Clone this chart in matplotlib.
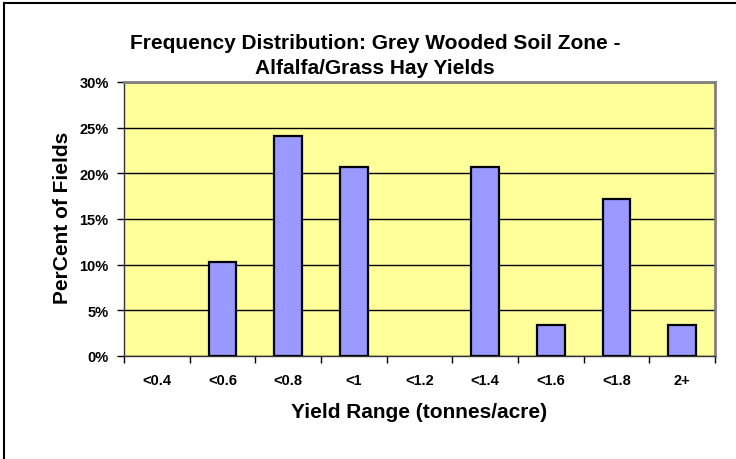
import numpy as np
import matplotlib
matplotlib.use("Agg")
import matplotlib.pyplot as plt
from matplotlib.lines import Line2D
from matplotlib.ticker import FuncFormatter

# Data
categories = ['<0.4', '<0.6', '<0.8', '<1', '<1.2', '<1.4', '<1.6', '<1.8', '2+']
percent_fields = [0.0, 10.3, 24.1, 20.7, 0.0, 20.7, 3.4, 17.2, 3.4]

plt.rcParams['font.family'] = ['Liberation Sans', 'DejaVu Sans']
plt.rcParams['font.weight'] = 'bold'

fig = plt.figure(figsize=(7.36, 4.6), dpi=100)
ax = fig.add_axes([124 / 736, 1 - 357 / 460, (715 - 124) / 736, (357 - 83) / 460])

x = np.arange(len(categories))
vals = np.array(percent_fields) / 100.0

ax.set_facecolor('#FFFF99')
ax.set_axisbelow(True)
ax.yaxis.grid(True, color='black', linewidth=1.0)
# empty classes get no outline
edge_w = [1.6 if v > 0 else 0 for v in vals]
ax.bar(x, vals, width=0.42, color='#9999FF', edgecolor='black', linewidth=edge_w, zorder=3)

ax.set_xlim(-0.5, len(categories) - 0.5)
ax.set_ylim(0, 0.30)
ax.set_yticks(np.arange(0, 0.301, 0.05))
ax.yaxis.set_major_formatter(FuncFormatter(lambda v, p: f"{v * 100:.0f}%"))
ax.tick_params(axis='y', direction='out', length=5, width=1, labelsize=10.5, pad=6)

# category labels centred, ticks at category boundaries
ax.set_xticks(x)
ax.set_xticklabels(categories)
ax.set_xticks(np.arange(-0.5, len(categories)), minor=True)
ax.tick_params(axis='x', which='major', length=0, labelsize=10.5, pad=12)
ax.tick_params(axis='x', which='minor', direction='out', length=5, width=1)

for s in ['top', 'right']:
    ax.spines[s].set_color('#808080')
    ax.spines[s].set_linewidth(2)
for s in ['left', 'bottom']:
    ax.spines[s].set_color('#333333')
    ax.spines[s].set_linewidth(1)

ax.set_ylabel('PerCent of Fields', fontsize=15, fontweight='bold', va='center')
ax.yaxis.set_label_coords((62 - 124) / 591, 0.509)
ax.set_xlabel('Yield Range (tonnes/acre)', fontsize=15, fontweight='bold', va='center')
ax.xaxis.set_label_coords(0.5, (357 - 413) / 274)

fig.text(375 / 736, 1 - 49 / 460,
         'Frequency Distribution: Grey Wooded Soil Zone -',
         ha='center', va='baseline', fontsize=15, fontweight='bold')
fig.text(375 / 736, 1 - 74 / 460,
         'Alfalfa/Grass Hay Yields',
         ha='center', va='baseline', fontsize=15, fontweight='bold')

# outer chart border (only top and left edges fall inside the image)
fig.add_artist(Line2D([3.5 / 736, 1.01], [1 - 3.5 / 460, 1 - 3.5 / 460],
                      transform=fig.transFigure, color='black', linewidth=1.5))
fig.add_artist(Line2D([3.5 / 736, 3.5 / 736], [-0.01, 1 - 3.5 / 460],
                      transform=fig.transFigure, color='black', linewidth=1.5))

plt.savefig('out.png', dpi=100)
plt.close()
